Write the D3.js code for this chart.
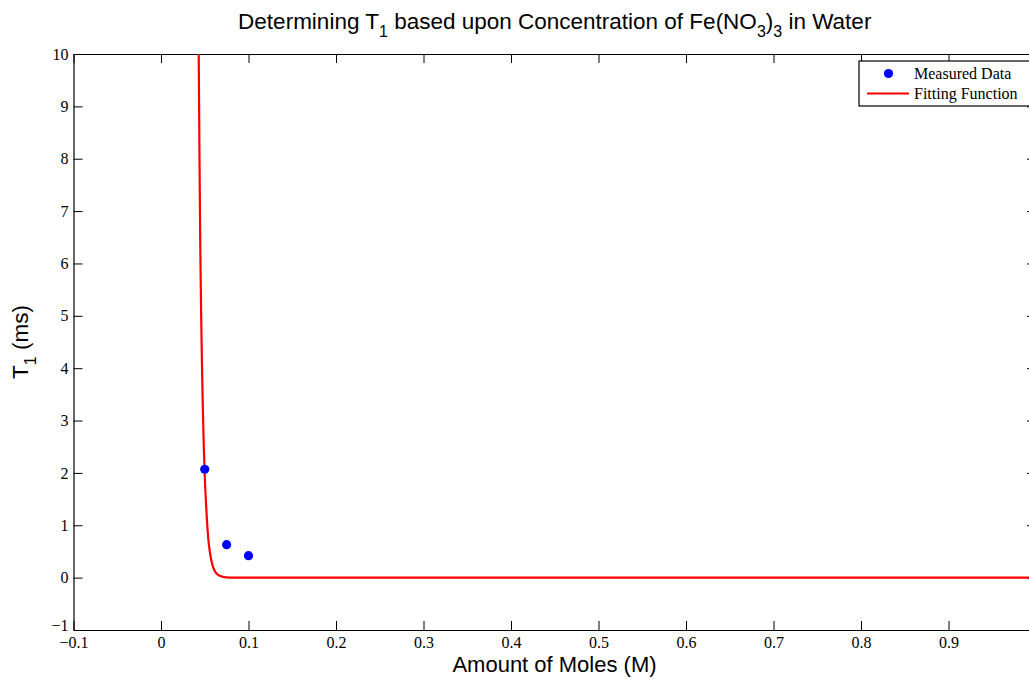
<!DOCTYPE html>
<html>
<head>
<meta charset="utf-8">
<script src="https://cdn.jsdelivr.net/npm/d3@7"></script>
<style>
  body { margin: 0; background: #fff; }
  svg { display: block; }
</style>
</head>
<body>
<div id="chart"></div>
<script>
// measured points
var measuredX = [0.05, 0.075, 0.1];
var measuredY = [2.07, 0.63, 0.42];

// fitting curve
var fitX = [0.0431, 0.0440, 0.0449, 0.046, 0.047, 0.048, 0.049, 0.050, 0.052, 0.054, 0.056, 0.059, 0.062, 0.064, 0.067, 0.071, 0.075, 0.08, 0.09, 0.1, 0.3, 0.6, 1.0];
var fitY = [10, 8.0, 6.3, 4.9, 3.9, 3.1, 2.45, 1.95, 1.25, 0.75, 0.47, 0.23, 0.11, 0.07, 0.035, 0.014, 0.006, 0.002, 0, 0, 0, 0, 0];

var xTicks = [-0.1, 0, 0.1, 0.2, 0.3, 0.4, 0.5, 0.6, 0.7, 0.8, 0.9, 1.0];
var yTicks = [-1, 0, 1, 2, 3, 4, 5, 6, 7, 8, 9, 10];

var W = 1029, H = 679;
var margin = {top: 54, left: 73.5},
    width = 962.5,
    height = 576;

var svg = d3.select("#chart")
  .append("svg")
    .attr("width", W)
    .attr("height", H);

var g = svg.append("g")
  .attr("transform", "translate(" + margin.left + "," + margin.top + ")");

var x = d3.scaleLinear().domain([-0.1, 1.0]).range([0, width]);
var y = d3.scaleLinear().domain([-1, 10]).range([height, 0]);

var fmt = function(d) { return String(d).replace("-", "\u2212"); };
// the 1.0 label sits past the window edge in the original, so leave it blank
var fmtX = function(d) { return d >= 1 ? "" : fmt(d); };
var serif = "'Liberation Serif', 'Times New Roman', serif";
var sans = "'Liberation Sans', Arial, Helvetica, sans-serif";

// bottom axis with labels
var xAxis = g.append("g")
  .attr("transform", "translate(0," + height + ")")
  .call(d3.axisBottom(x).tickValues(xTicks).tickFormat(fmtX).tickSizeInner(-9).tickSizeOuter(0).tickPadding(7));
// top axis, ticks only
var xTop = g.append("g")
  .call(d3.axisTop(x).tickValues(xTicks).tickFormat("").tickSizeInner(-9).tickSizeOuter(0));
// left axis with labels
var yAxis = g.append("g")
  .call(d3.axisLeft(y).tickValues(yTicks).tickFormat(fmt).tickSizeInner(-9).tickSizeOuter(0).tickPadding(5));
// right axis, ticks only
var yRight = g.append("g")
  .attr("transform", "translate(" + width + ",0)")
  .call(d3.axisRight(y).tickValues(yTicks).tickFormat("").tickSizeInner(-9).tickSizeOuter(0));

[xAxis, xTop, yAxis, yRight].forEach(function(a) {
  a.select(".domain").attr("stroke", "#000").attr("stroke-width", 1.2);
  a.selectAll(".tick line").attr("stroke", "#000");
  a.selectAll("text")
    .attr("font-family", serif)
    .attr("font-size", 16)
    .attr("fill", "#000");
});

// lift the -1 label a little so it clears the -0.1 label below it
yAxis.selectAll(".tick text")
  .filter(function(d) { return d === -1; })
  .attr("dy", "0.05em");

g.append("clipPath").attr("id", "clip")
  .append("rect").attr("width", width).attr("height", height);

// fitting line
var fitData = fitX.map(function(d, i) { return {x: d, y: fitY[i]}; });
g.append("path")
  .datum(fitData)
  .attr("clip-path", "url(#clip)")
  .attr("fill", "none")
  .attr("stroke", "#ff0000")
  .attr("stroke-width", 2.2)
  .attr("d", d3.line()
    .x(function(d) { return x(d.x); })
    .y(function(d) { return y(d.y); })
    .curve(d3.curveMonotoneX));

// measured dots
g.selectAll(".dot")
  .data(measuredX.map(function(d, i) { return {x: d, y: measuredY[i]}; }))
  .enter().append("circle")
    .attr("cx", function(d) { return x(d.x); })
    .attr("cy", function(d) { return y(d.y); })
    .attr("r", 4.6)
    .attr("fill", "#0000ff");

// title
var title = svg.append("text")
  .attr("x", margin.left + width / 2)
  .attr("y", 29)
  .attr("text-anchor", "middle")
  .attr("font-family", sans)
  .attr("font-size", 22.5)
  .attr("fill", "#000");
title.append("tspan").text("Determining T");
title.append("tspan").attr("dy", 8).attr("font-size", 16).text("1");
title.append("tspan").attr("dy", -8).text(" based upon Concentration of Fe(NO");
title.append("tspan").attr("dy", 8).attr("font-size", 16).text("3");
title.append("tspan").attr("dy", -8).text(")");
title.append("tspan").attr("dy", 8).attr("font-size", 16).text("3");
title.append("tspan").attr("dy", -8).text(" in Water");

// x label
svg.append("text")
  .attr("x", margin.left + 481)
  .attr("y", 672)
  .attr("text-anchor", "middle")
  .attr("font-family", sans)
  .attr("font-size", 22)
  .attr("fill", "#000")
  .text("Amount of Moles (M)");

// y label
var yl = svg.append("text")
  .attr("transform", "translate(28," + (margin.top + height / 2) + ") rotate(-90)")
  .attr("text-anchor", "middle")
  .attr("font-family", sans)
  .attr("font-size", 22.5)
  .attr("fill", "#000");
yl.append("tspan").text("T");
yl.append("tspan").attr("dy", 8).attr("font-size", 16).text("1");
yl.append("tspan").attr("dy", -8).text(" (ms)");

// legend
var leg = svg.append("g").attr("transform", "translate(859,61)");
leg.append("rect")
  .attr("width", 175).attr("height", 45)
  .attr("fill", "#fff").attr("stroke", "#000").attr("stroke-width", 1.2);
leg.append("circle").attr("cx", 29.5).attr("cy", 12.5).attr("r", 4.6).attr("fill", "#0000ff");
leg.append("line").attr("x1", 8).attr("x2", 50).attr("y1", 32.5).attr("y2", 32.5)
  .attr("stroke", "#ff0000").attr("stroke-width", 2.2);
leg.append("text").attr("x", 55).attr("y", 17.5)
  .attr("font-family", serif).attr("font-size", 16).attr("fill", "#000")
  .text("Measured Data");
leg.append("text").attr("x", 55).attr("y", 37.5)
  .attr("font-family", serif).attr("font-size", 16).attr("fill", "#000")
  .text("Fitting Function");
</script>
</body>
</html>
